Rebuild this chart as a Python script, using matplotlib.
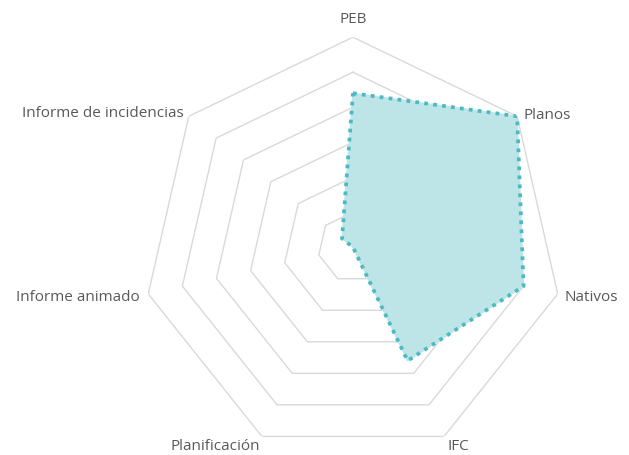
import numpy as np
import matplotlib.pyplot as plt

# radar chart data
categories = ['PEB', 'Planos', 'Nativos', 'IFC', 'Planificación',
              'Informe animado', 'Informe de incidencias']
values = [4.4, 6.0, 5.0, 3.6, 0.0, 0.0, 0.4]
rings = [1, 2, 3, 4, 5, 6]
rmax = 6

plt.rcParams['font.family'] = ['Open Sans', 'DejaVu Sans']

n = len(categories)
angles = np.linspace(0, 2 * np.pi, n, endpoint=False)

fig = plt.figure(figsize=(6.29, 4.56), dpi=100)
ax = fig.add_axes([0.2273, -0.0048, 0.6677, 0.921], projection='polar')
ax.set_theta_zero_location('N')
ax.set_theta_direction(-1)
ax.set_ylim(0, rmax)
ax.grid(False)
ax.spines['polar'].set_visible(False)
ax.set_xticks([])
ax.set_yticks([])
ax.patch.set_alpha(0)

# heptagon grid (no spokes)
a_closed = np.append(angles, angles[0])
for r in rings:
    ax.plot(a_closed, [r] * (n + 1), color='#d9d9d9', lw=1.0, zorder=1)

# series
v_closed = values + values[:1]
ax.fill(a_closed, v_closed, color='#bde4e6', zorder=2)
ax.plot(a_closed, v_closed, color='#4bbac3', lw=2.7,
        linestyle=(0, (1, 1.4)), dash_capstyle='butt', zorder=3)

# category labels, offset from the outer vertex in pixels
offsets = [(0, 19), (6, 2), (7, -3), (3, -9), (-2, -9), (-8, -3), (-5, 4)]
aligns = ['center', 'left', 'left', 'left', 'right', 'right', 'right']
for a, lab, off, ha in zip(angles, categories, offsets, aligns):
    ax.annotate(lab, xy=(a, rmax), xytext=off, textcoords='offset pixels',
                ha=ha, va='center', fontsize=11, color='#595959',
                annotation_clip=False)

fig.savefig('out.png', dpi=100)
